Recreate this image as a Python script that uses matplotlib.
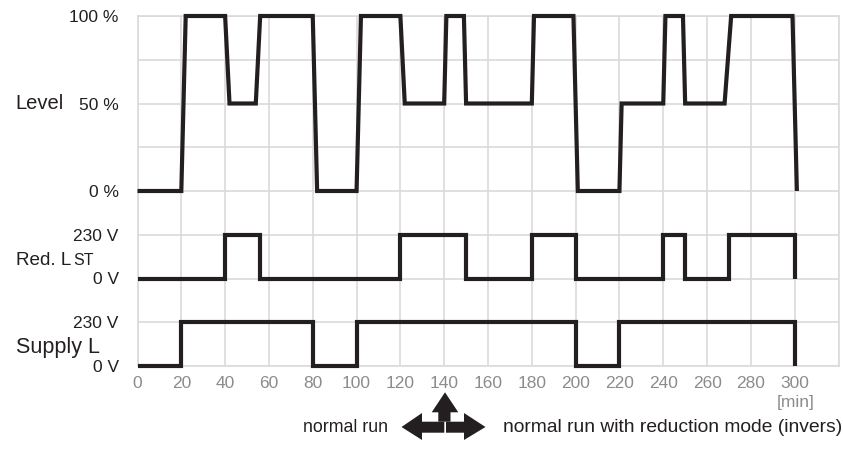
import matplotlib
matplotlib.use("Agg")
import matplotlib.pyplot as plt
from matplotlib.patches import Polygon

plt.rcParams['font.family'] = ['Liberation Sans', 'DejaVu Sans']

# ---- data ----
level_t = [0, 20, 22, 40, 42, 54, 56, 80, 82, 100, 102, 120, 122, 140, 141, 149, 150,
           180, 181, 199, 201, 220, 221, 240, 241, 249, 250, 268, 271, 299, 301]
level_pct = [0, 0, 100, 100, 50, 50, 100, 100, 0, 0, 100, 100, 50, 50, 100, 100, 50,
             50, 100, 100, 0, 0, 50, 50, 100, 100, 50, 50, 100, 100, 0]

red_t = [0, 40, 40, 56, 56, 120, 120, 150, 150, 180, 180, 200, 200, 240, 240, 250, 250,
         270, 270, 300, 300]
red_v = [0, 0, 230, 230, 0, 0, 230, 230, 0, 0, 230, 230, 0, 0, 230, 230, 0,
         0, 230, 230, 0]

supply_t = [0, 20, 20, 80, 80, 100, 100, 200, 200, 220, 220, 300, 300]
supply_v = [0, 0, 230, 230, 0, 0, 230, 230, 0, 0, 230, 230, 0]

x_ticks = list(range(0, 301, 20))
x_grid = list(range(0, 321, 20))
ytick_labels = ["0 V", "230 V", "0 V", "230 V", "0 %", "50 %", "100 %"]
ytick_pos = [0, 1, 2, 3, 4, 6, 8]

W, H = 843, 450
fig = plt.figure(figsize=(W / 100, H / 100), dpi=100)

def px(x, y):
    return (x / W, 1 - y / H)

ax = fig.add_axes([137.5 / W, 1 - 366 / H, 701 / W, 350 / H])

LINE = '#231f20'
GRID = '#dadada'

lvl_y = [4 + p / 25 for p in level_pct]
red_y = [2 + v / 230 for v in red_v]
sup_y = [v / 230 for v in supply_v]

for t, y in [(level_t, lvl_y), (red_t, red_y), (supply_t, sup_y)]:
    ax.plot(t, y, color=LINE, lw=3.0, clip_on=False, zorder=5,
            solid_joinstyle='miter', solid_capstyle='butt')

ax.set_xlim(0, 320)
ax.set_ylim(0, 8)
ax.set_xticks(x_grid)
ax.set_xticklabels([str(v) if v in x_ticks else "" for v in x_grid])
ax.set_yticks(range(0, 9))
ylabels = []
for k in range(9):
    ylabels.append(ytick_labels[ytick_pos.index(k)] if k in ytick_pos else "")
ax.set_yticklabels(ylabels)
ax.grid(True, color=GRID, lw=1.2, zorder=0)
for s in ax.spines.values():
    s.set_color(GRID)
    s.set_linewidth(1.2)
ax.tick_params(axis='both', length=0)
ax.tick_params(axis='y', pad=13.5, labelsize=12.5, labelcolor=LINE)
ax.tick_params(axis='x', pad=7.5, labelsize=12.5, labelcolor='#8c8c8c')

# row labels
fig.text(*px(15, 104), "Level", fontsize=14.5, color=LINE, ha='left', va='center')
fig.text(*px(16, 265), "Red. L", fontsize=13.6, color=LINE, ha='left', va='baseline')
fig.text(*px(72.8, 265), "ST", fontsize=11.5, color=LINE, ha='left', va='baseline')
fig.text(*px(16, 353), "Supply L", fontsize=15.5, color=LINE, ha='left', va='baseline')

fig.text(*px(815, 403), "[min]", fontsize=12.5, color='#8c8c8c', ha='right', va='center')

# bottom annotation
fig.text(*px(303, 432), "normal run", fontsize=12.8, color=LINE, ha='left', va='baseline')
fig.text(*px(503, 432), "normal run with reduction mode (invers)", fontsize=13.9,
         color=LINE, ha='left', va='baseline')

cy = 427
left_arrow = [(401.5, cy), (422, 413), (422, 421.7), (444.3, 421.7), (444.3, 432.7),
              (422, 432.7), (422, 440)]
right_arrow = [(485.5, cy), (464, 413), (464, 421.7), (446, 421.7), (446, 432.7),
               (464, 432.7), (464, 440)]
up_arrow = [(445, 392.3), (431.7, 412.3), (438.3, 412.3), (438.3, 421.7), (450.5, 421.7),
            (450.5, 412.3), (458.3, 412.3)]
for poly in (left_arrow, right_arrow, up_arrow):
    fig.patches.append(Polygon([px(x, y) for x, y in poly], closed=True,
                               transform=fig.transFigure, facecolor=LINE,
                               edgecolor='none'))

fig.savefig("out.png", dpi=100)
